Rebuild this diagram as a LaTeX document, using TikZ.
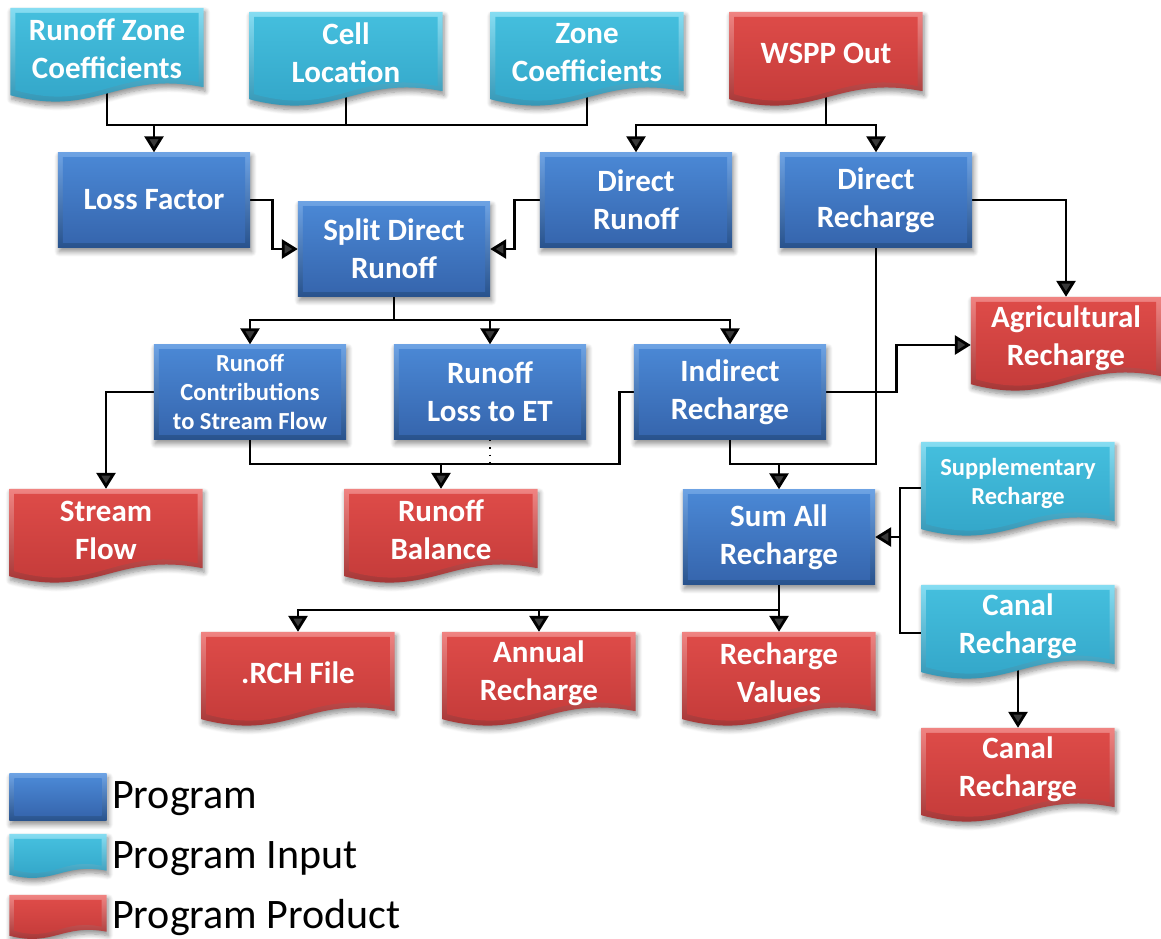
\documentclass[tikz,border=0pt]{standalone}
\usepackage{fontspec}
\setmainfont{Carlito}
\usetikzlibrary{arrows.meta,calc,shadows.blur}

\pgfdeclarelayer{lines}
\pgfdeclarelayer{shapes}
\pgfsetlayers{lines,shapes,main}

% program boxes (blue)
\definecolor{prog-ot}{HTML}{6EA3E4}
\definecolor{prog-ob}{HTML}{28528C}
\definecolor{prog-it}{HTML}{4A87D4}
\definecolor{prog-ib}{HTML}{3666AE}
% program inputs (cyan)
\definecolor{input-ot}{HTML}{86DDF2}
\definecolor{input-ob}{HTML}{268AAB}
\definecolor{input-it}{HTML}{44BEDD}
\definecolor{input-ib}{HTML}{31A3C6}
% program products (red)
\definecolor{prod-ot}{HTML}{F08482}
\definecolor{prod-ob}{HTML}{982828}
\definecolor{prod-it}{HTML}{DD4B48}
\definecolor{prod-ib}{HTML}{C13938}

\tikzset{
  softshadow/.style={blur shadow={shadow xshift=1.5pt,shadow yshift=-4pt,
      shadow blur radius=5pt,shadow blur steps=8,shadow opacity=45}},
  prog/.style={minimum width=192pt,minimum height=95pt,inner sep=0pt,align=center,
      text=white,font=\bfseries\fontsize{31}{38}\selectfont},
  doc/.style={minimum width=193pt,minimum height=82pt,inner sep=0pt,align=center,
      text=white,font=\bfseries\fontsize{31}{38}\selectfont},
  smalltext/.style={font=\bfseries\fontsize{24.5}{29}\selectfont},
  legtext/.style={anchor=west,inner sep=0pt,text=black,font=\fontsize{42}{50}\selectfont},
  wire/.style={line width=2.8pt,line join=miter},
  flow/.style={wire,-{Triangle[length=16pt,width=19pt]}},
}

% bevelled rectangle behind a program node
\newcommand\flowprog[2]{%
  \path[top color=#2-ot,bottom color=#2-ob,softshadow]
    (#1.north west) rectangle (#1.south east);
  \path[top color=#2-it,bottom color=#2-ib]
    ([shift={(5,5)}]#1.north west) rectangle ([shift={(-5,-5)}]#1.south east);
}
% document outline with a wavy lower edge: node, inset, wave scale, options
\newcommand\wavefill[4]{%
  \path[#4] let \p1=(#1.north west), \p2=(#1.south east), \n1={\x2-\x1} in
    (\x1+#2,\y1-#2) -- (\x2-#2,\y1-#2) -- (\x2-#2,\y2+3*#3+#2)
    .. controls (\x1+0.55*\n1,\y2+20*#3+#2) and (\x1+0.45*\n1,\y2-28*#3+#2)
    .. (\x1+#2,\y2-5*#3+#2) -- cycle;
}
% bevelled document behind a node: node, wave scale, colour set
\newcommand\flowdoc[3]{%
  \wavefill{#1}{0}{#2}{top color=#3-ot,bottom color=#3-ob,softshadow}
  \wavefill{#1}{5}{#2}{top color=#3-it,bottom color=#3-ib}
}

\begin{document}
\begin{tikzpicture}[x=1pt,y=-1pt]
\useasboundingbox (0,0) rectangle (1161,938);

% inputs
\node[doc] (rzc)  at (107,49)  {Runoff Zone\\Coefficients};
\node[doc] (cell) at (346,53)  {Cell\\Location};
\node[doc] (zone) at (587,53)  {Zone\\Coefficients};
\node[doc] (wspp) at (826,53)  {WSPP Out};
\node[doc,smalltext] (supp) at (1018,483) {Supplementary\\Recharge};
\node[doc] (canalin) at (1018,626) {Canal\\Recharge};

% programs
\node[prog] (loss)     at (154,200) {Loss Factor};
\node[prog] (split)    at (394,249) {Split Direct\\Runoff};
\node[prog] (drunoff)  at (636,200) {Direct\\Runoff};
\node[prog] (drech)    at (876,200) {Direct\\Recharge};
\node[prog,smalltext] (contrib) at (250,392) {Runoff\\Contributions\\to Stream Flow};
\node[prog] (lossET)   at (490,392) {Runoff\\Loss to ET};
\node[prog] (indirect) at (730,392) {Indirect\\Recharge};
\node[prog] (sumall)   at (779,537) {Sum All\\Recharge};

% products
\node[doc,minimum width=190pt] (agri) at (1066,338) {Agricultural\\Recharge};
\node[doc] (stream)   at (106,530) {Stream\\Flow};
\node[doc] (balance)  at (441,530) {Runoff\\Balance};
\node[doc] (rch)      at (298,673) {.RCH File};
\node[doc] (annual)   at (539,673) {Annual\\Recharge};
\node[doc] (values)   at (779,673) {Recharge\\Values};
\node[doc] (canalout) at (1018,769) {Canal\\Recharge};

% legend
\node[minimum width=97pt,minimum height=47pt,inner sep=0pt] (legprog) at (58,797) {};
\node[minimum width=97pt,minimum height=38pt,inner sep=0pt] (leginput) at (58,853) {};
\node[minimum width=97pt,minimum height=38pt,inner sep=0pt] (legprod) at (58,914) {};
\node[legtext] (legprogtxt)  at (112,799) {Program};
\node[legtext] (leginputtxt) at (112,859) {Program Input};
\node[legtext] (legprodtxt)  at (112,918) {Program Product};

% junction points of the connectors
\coordinate (j1) at (154,125);
\coordinate (j2) at (826,125);
\coordinate (j3) at (394,320);
\coordinate (j4) at (779,464);
\coordinate (j5) at (441,464);
\coordinate (j6) at (900,537);
\coordinate (j7) at (779,610);

\begin{pgfonlayer}{shapes}
  \foreach \nd in {rzc,cell,zone,supp,canalin} {\flowdoc{\nd}{1}{input}}
  \foreach \nd in {wspp,agri,stream,balance,rch,annual,values,canalout} {\flowdoc{\nd}{1}{prod}}
  \foreach \nd in {loss,split,drunoff,drech,contrib,lossET,indirect,sumall} {\flowprog{\nd}{prog}}
  \flowprog{legprog}{prog}
  \flowdoc{leginput}{0.5}{input}
  \flowdoc{legprod}{0.5}{prod}
\end{pgfonlayer}

\begin{pgfonlayer}{lines}
  % inputs to Loss Factor
  \draw[wire] (rzc.south) -- (rzc.south |- j1) -- (zone.south |- j1) -- (zone.south);
  \draw[wire] (cell.south) -- (cell.south |- j1);
  \draw[flow] (j1) -- (loss.north);
  % WSPP output
  \draw[wire] (wspp.south) -- (j2);
  \draw[flow] (j2) -| (drunoff.north);
  \draw[flow] (j2) -| (drech.north);
  % into Split Direct Runoff
  \draw[flow] (loss.east) -- ++(22,0) |- (split.west);
  \draw[flow] (drunoff.west) -- ++(-25,0) |- (split.east);
  % Split Direct Runoff fan-out
  \draw[wire] (split.south) -- (j3);
  \draw[flow] (j3) -| (contrib.north);
  \draw[flow] (j3) -| (lossET.north);
  \draw[flow] (j3) -| (indirect.north);
  % Direct Recharge
  \draw[flow] (drech.east) -| (agri.north);
  \draw[wire] (drech.south) |- (j4);
  \draw[wire] (indirect.south) |- (j4);
  \draw[flow] (j4) -- (sumall.north);
  \draw[flow] (indirect.east) -- ++(70,0) |- ([yshift=-7pt]agri.west);
  % Runoff Balance
  \draw[wire] (contrib.south) |- (j5);
  \draw[wire] (indirect.west) -- ++(-14,0) |- (j5);
  \draw[line width=1.3pt,dash pattern=on 1.5pt off 6pt] (lossET.south) -- (lossET.south |- j5);
  \draw[flow] (j5) -- (balance.north);
  % Stream Flow
  \draw[flow] (contrib.west) -| (stream.north);
  % supplementary and canal inputs
  \draw[wire] ([yshift=-5pt]supp.west) -| (j6) |- ([yshift=-7pt]canalin.west);
  \draw[flow] (j6) -- (sumall.east);
  \draw[flow] (canalin.south) -- (canalout.north);
  % Sum All Recharge outputs
  \draw[wire] (sumall.south) -- (j7);
  \draw[flow] (j7) -| (rch.north);
  \draw[flow] (j7) -| (annual.north);
  \draw[flow] (j7) -| (values.north);
\end{pgfonlayer}
\end{tikzpicture}
\end{document}
